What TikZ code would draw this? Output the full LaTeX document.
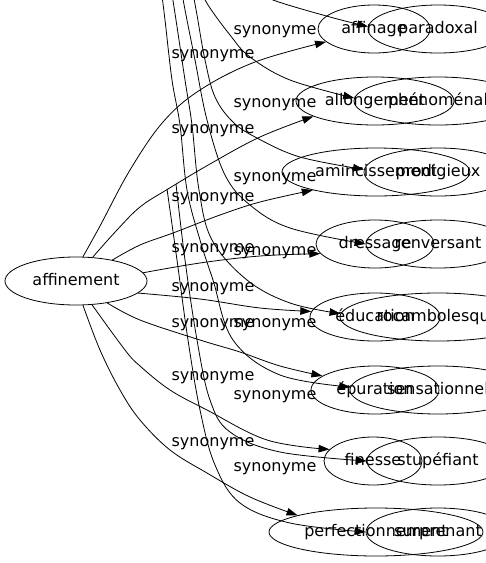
\documentclass[tikz,border=0pt]{standalone}
\usepackage{fontspec}
\setmainfont{DejaVu Sans}
\usetikzlibrary{shapes.geometric,arrows.meta}
\begin{document}
\begin{tikzpicture}[x=1pt,y=-1pt,
  ent/.style={ellipse,draw,line width=0.8pt,inner sep=0pt,minimum height=48pt,
    font=\fontsize{16}{19}\selectfont,text height=12pt,text depth=4pt},
  lbl/.style={inner sep=0pt,font=\fontsize{16}{19}\selectfont},
  conn/.style={line width=0.8pt,-{Triangle[length=11pt,width=7.5pt]}}]
\useasboundingbox (0,0) rectangle (486,563);
\clip (0,0) rectangle (486,563);

% source of the first graph
\node[ent,minimum width=142pt] (affinement) at (76,281) {affinement};

% targets of the first graph
\node[ent,minimum width=112pt] (affinage) at (374,29) {affinage};
\node[ent,minimum width=158pt] (allongement) at (375,101) {allongement};
\node[ent,minimum width=188pt] (amincissement) at (376,172) {amincissement};
\node[ent,minimum width=118pt] (dressage) at (375,244) {dressage};
\node[ent,minimum width=130pt] (education) at (375,317) {éducation};
\node[ent,minimum width=128pt] (epuration) at (375,390) {épuration};
\node[ent,minimum width=98pt] (finesse) at (373,461) {finesse};
\node[ent,minimum width=214pt] (perfectionnement) at (376,532) {perfectionnement};

% targets of the second graph
\node[ent,minimum width=140pt] (paradoxal) at (438,29) {paradoxal};
\node[ent,minimum width=168pt] (phenomenal) at (438,101) {phénoménal};
\node[ent,minimum width=148pt] (prodigieux) at (438,172) {prodigieux};
\node[ent,minimum width=144pt] (renversant) at (438,244) {renversant};
\node[ent,minimum width=196pt] (rocambolesque) at (438,317) {rocambolesque};
\node[ent,minimum width=176pt] (sensationnel) at (438,390) {sensationnel};
\node[ent,minimum width=142pt] (stupefiant) at (438,461) {stupéfiant};
\node[ent,minimum width=144pt] (surprenant) at (438,532) {surprenant};

% free ends of the second graph's connectors
\coordinate (b1) at (252,-12);
\coordinate (b2) at (200,-12);
\coordinate (b3) at (192,-12);
\coordinate (b4) at (181,-12);
\coordinate (b5) at (171,-12);
\coordinate (b6) at (161,-12);
\coordinate (b7) at (176,184);
\coordinate (b8) at (167,189);

% connectors of the first graph
\draw[conn] plot[smooth,tension=0.6] coordinates {(affinement.74) (100,226) (130,170) (163,122) (200,90) (255,62) (affinage.195)};
\draw[conn] plot[smooth,tension=0.6] coordinates {(affinement.55) (117,230) (140,207) (168,189) (210,164) (260,137) (allongement.194)};
\draw[conn] plot[smooth,tension=0.6] coordinates {(affinement.30) (140,245) (173,233) (220,215) (260,202) (amincissement.196)};
\draw[conn] plot[smooth,tension=0.6] coordinates {(affinement.7) (200,263) (260,256) (dressage.190)};
\draw[conn] plot[smooth,tension=0.6] coordinates {(affinement.349) (200,299) (260,308) (education.175)};
\draw[conn] plot[smooth,tension=0.6] coordinates {(affinement.325) (140,320) (200,340) (240,352) (280,366) (epuration.165)};
\draw[conn] plot[smooth,tension=0.6] coordinates {(affinement.304) (125,350) (140,366) (170,390) (207,410) (267,440) (finesse.165)};
\draw[conn] plot[smooth,tension=0.6] coordinates {(affinement.286) (100,350) (120,390) (140,420) (170,450) (207,473) (250,497) (perfectionnement.168)};

% connectors of the second graph
\draw[conn] plot[smooth,tension=0.6] coordinates {(b1) (273,0) (330,17) (paradoxal.178)};
\draw[conn] plot[smooth,tension=0.6] coordinates {(b2) (208,5) (230,35) (250,57) (290,80) (phenomenal.178)};
\draw[conn] plot[smooth,tension=0.6] coordinates {(b3) (197,15) (205,60) (215,97) (233,122) (257,138) (300,157) (prodigieux.178)};
\draw[conn] plot[smooth,tension=0.6] coordinates {(b4) (186,15) (195,60) (207,120) (225,175) (250,205) (290,228) (renversant.180)};
\draw[conn] plot[smooth,tension=0.6] coordinates {(b5) (176,20) (185,80) (192,125) (199,190) (212,240) (247,280) (290,303) (rocambolesque.178)};
\draw[conn] plot[smooth,tension=0.6] coordinates {(b6) (165,20) (172,80) (180,125) (187,190) (200,240) (213,280) (233,340) (280,375) (sensationnel.178)};
\draw[conn] plot[smooth,tension=0.6] coordinates {(b7) (185,260) (197,340) (210,400) (230,432) (280,452) (stupefiant.180)};
\draw[conn] plot[smooth,tension=0.6] coordinates {(b8) (177,260) (188,340) (200,410) (215,465) (240,503) (290,523) (surprenant.180)};

% labels
\node[lbl] (la1) at (213,56) {synonyme};
\node[lbl] (la2) at (213,131) {synonyme};
\node[lbl] (la3) at (213,199) {synonyme};
\node[lbl] (la4) at (213,250) {synonyme};
\node[lbl] (la5) at (213,289) {synonyme};
\node[lbl] (la6) at (213,325) {synonyme};
\node[lbl] (la7) at (213,378) {synonyme};
\node[lbl] (la8) at (213,444) {synonyme};
\node[lbl] (lb1) at (275,32) {synonyme};
\node[lbl] (lb2) at (275,105) {synonyme};
\node[lbl] (lb3) at (275,179) {synonyme};
\node[lbl] (lb4) at (275,253) {synonyme};
\node[lbl] (lb5) at (275,325) {synonyme};
\node[lbl] (lb6) at (275,397) {synonyme};
\node[lbl] (lb7) at (275,469) {synonyme};
\end{tikzpicture}
\end{document}
